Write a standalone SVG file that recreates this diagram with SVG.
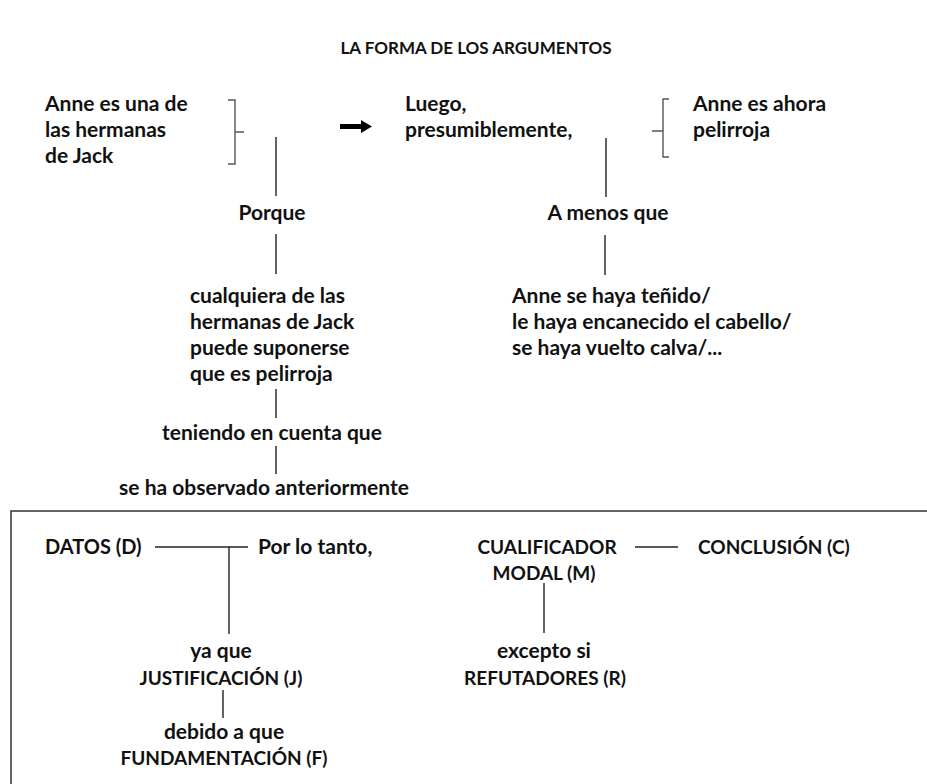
<svg xmlns="http://www.w3.org/2000/svg" width="927" height="784" viewBox="0 0 927 784">
<style>
text{font-family:Lato,"Open Sans","Liberation Sans",sans-serif;font-weight:bold;font-size:21px;fill:#111}
.u{font-size:19px}
.c{text-anchor:middle}
.ln{stroke:#222;stroke-width:1.4;fill:none}
.br{stroke:#555;stroke-width:1.4;fill:none}
</style>
<rect width="927" height="784" fill="#fff"/>
<text id="title" class="c" x="476" y="54" style="font-size:17px">LA FORMA DE LOS ARGUMENTOS</text>

<g id="dato">
<text x="45" y="111">Anne es una de</text>
<text x="45" y="137">las hermanas</text>
<text x="45" y="163">de Jack</text>
</g>
<g id="luego">
<text x="405" y="111">Luego,</text>
<text x="405" y="137">presumiblemente,</text>
</g>
<g id="conclusion">
<text x="693" y="111">Anne es ahora</text>
<text x="693" y="137">pelirroja</text>
</g>
<g id="porque"><text class="c" x="272" y="220">Porque</text></g>
<g id="garantia">
<text x="190" y="303">cualquiera de las</text>
<text x="190" y="329">hermanas de Jack</text>
<text x="190" y="355">puede suponerse</text>
<text x="190" y="381">que es pelirroja</text>
</g>
<g id="teniendo"><text class="c" x="272" y="440">teniendo en cuenta que</text></g>
<g id="observado"><text class="c" x="264" y="495">se ha observado anteriormente</text></g>
<g id="amenos"><text class="c" x="608" y="220">A menos que</text></g>
<g id="refut">
<text x="512" y="303">Anne se haya teñido/</text>
<text x="512" y="329">le haya encanecido el cabello/</text>
<text x="512" y="355">se haya vuelto calva/...</text>
</g>

<rect x="11" y="511" width="930" height="290" fill="none" stroke="#333" stroke-width="1.5"/>
<g id="datos"><text class="u" x="45" y="554" style="font-size:20px">DATOS (D)</text></g>
<g id="portanto"><text x="258" y="554">Por lo tanto,</text></g>
<g id="cualif">
<text class="c u" x="547" y="554">CUALIFICADOR</text>
<text class="c u" x="544" y="580">MODAL (M)</text>
</g>
<g id="concl"><text class="u" x="698" y="554">CONCLUSIÓN (C)</text></g>
<g id="just">
<text class="c" x="221" y="658">ya que</text>
<text class="c u" x="221" y="685">JUSTIFICACIÓN (J)</text>
</g>
<g id="fund">
<text class="c" x="224" y="739">debido a que</text>
<text class="c u" x="224" y="765">FUNDAMENTACIÓN (F)</text>
</g>
<g id="excepto">
<text class="c" x="544" y="658">excepto si</text>
<text class="c u" x="545" y="685">REFUTADORES (R)</text>
</g>

<g id="connectors">
<path class="br" d="M228,100 H235 V164 H228 M235,132 H244"/>
<path class="br" d="M669,99 H663 V157 H669 M663,131 H652"/>
<path d="M340,124 H361 V120 L372,126.5 L361,133 V129 H340 Z" fill="#000"/>
<line class="ln" x1="276" y1="137" x2="276" y2="196"/>
<line class="ln" x1="606" y1="138" x2="606" y2="197"/>
<line class="ln" x1="276" y1="234" x2="276" y2="274"/>
<line class="ln" x1="605" y1="235" x2="605" y2="275"/>
<line class="ln" x1="276" y1="389" x2="276" y2="418"/>
<line class="ln" x1="276" y1="446" x2="276" y2="474"/>
<line class="ln" x1="155" y1="547" x2="248" y2="547"/>
<line class="ln" x1="229" y1="547" x2="229" y2="634"/>
<line class="ln" x1="635" y1="547" x2="678" y2="547"/>
<line class="ln" x1="544" y1="583" x2="544" y2="633"/>
<line class="ln" x1="223" y1="690" x2="223" y2="718"/>
</g>
</svg>
